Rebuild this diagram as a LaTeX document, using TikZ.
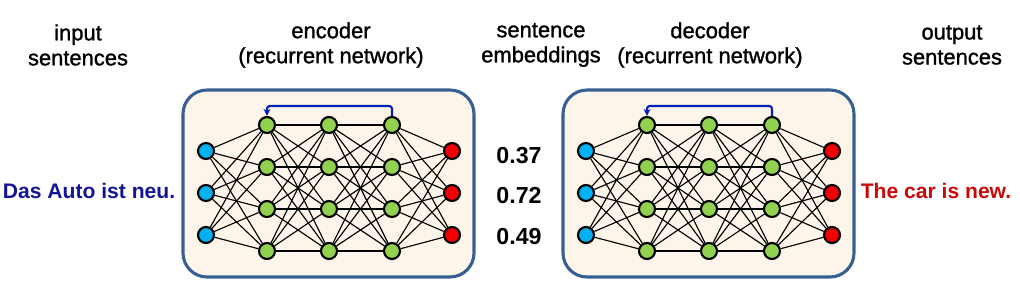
\documentclass[tikz,border=0pt]{standalone}
\usepackage{fontspec}
\setmainfont{Liberation Sans}
\newfontfamily\headfont{Liberation Sans}[FakeBold=1.2]
\usetikzlibrary{arrows.meta, positioning, calc}
\definecolor{BoxFill}{RGB}{253,245,233}
\definecolor{BoxEdge}{RGB}{54,96,146}
\definecolor{InBlue}{RGB}{0,176,240}
\definecolor{HidGreen}{RGB}{146,208,80}
\definecolor{OutRed}{RGB}{240,0,0}
\definecolor{LoopBlue}{RGB}{0,32,192}
\definecolor{SrcBlue}{RGB}{20,20,150}
\definecolor{TgtRed}{RGB}{200,10,10}

\begin{document}
\begin{tikzpicture}[x=0.025cm, y=-0.025cm,
    neuron/.style={circle, draw=black, line width=1.5pt, minimum size=0.40cm, inner sep=0pt},
    netbox/.style={draw=BoxEdge, line width=2.2pt, fill=BoxFill, rounded corners=0.6cm},
    head/.style={align=center, font=\headfont\fontsize{15.6}{17.8}\selectfont},
    emb/.style={font=\fontsize{16.5}{19}\selectfont\bfseries},
    sent/.style={font=\fontsize{15}{18}\selectfont\bfseries},
    link/.style={line width=0.8pt},
    loop/.style={draw=LoopBlue, line width=1.5pt, rounded corners=2pt, -{Stealth[length=5pt,width=5pt]}}]

  \useasboundingbox (0,0) rectangle (1020,297);

  % the two recurrent networks
  \foreach \net/\dx in {enc/0, dec/380} {
    \draw[netbox] (183+\dx,90) rectangle (474+\dx,277);
    \foreach \y [count=\i] in {151,193,235} {
      \node[neuron, fill=InBlue] (\net-in\i) at (206+\dx,\y) {};
      \node[neuron, fill=OutRed] (\net-out\i) at (452+\dx,\y) {};
    }
    \foreach \x [count=\l] in {267,329,392}
      \foreach \y [count=\i] in {125,167,209,251}
        \node[neuron, fill=HidGreen] (\net-h\l\i) at (\x+\dx,\y) {};
    % full connections
    \foreach \i in {1,2,3}
      \foreach \j in {1,...,4} {
        \draw[link] (\net-in\i) -- (\net-h1\j);
        \draw[link] (\net-h3\j) -- (\net-out\i);
      }
    \foreach \l/\m in {1/2, 2/3}
      \foreach \i in {1,...,4}
        \foreach \j in {1,...,4}
          \draw[link] (\net-h\l\i) -- (\net-h\m\j);
    % recurrence
    \draw[loop] (\net-h31.north) -- ++(0,-10) -| (\net-h11.north);
  }

  % headings
  \node[head] (inlbl)  at (78,45)  {input\\sentences};
  \node[head] (enclbl) at (331,45) {encoder\\(recurrent network)};
  \node[head] (emblbl) at (541,45) {sentence\\embeddings};
  \node[head] (declbl) at (710,45) {decoder\\(recurrent network)};
  \node[head] (outlbl) at (952,45) {output\\sentences};

  % embedding values
  \foreach \v/\y [count=\i] in {0.37/156, 0.72/196, 0.49/237}
    \node[emb] (val\i) at (519,\y) {\v};

  % sentences
  \node[sent, text=SrcBlue] (src) at (89,191) {Das Auto ist neu.};
  \node[sent, text=TgtRed]  (tgt) at (936,191) {The car is new.};
\end{tikzpicture}
\end{document}
